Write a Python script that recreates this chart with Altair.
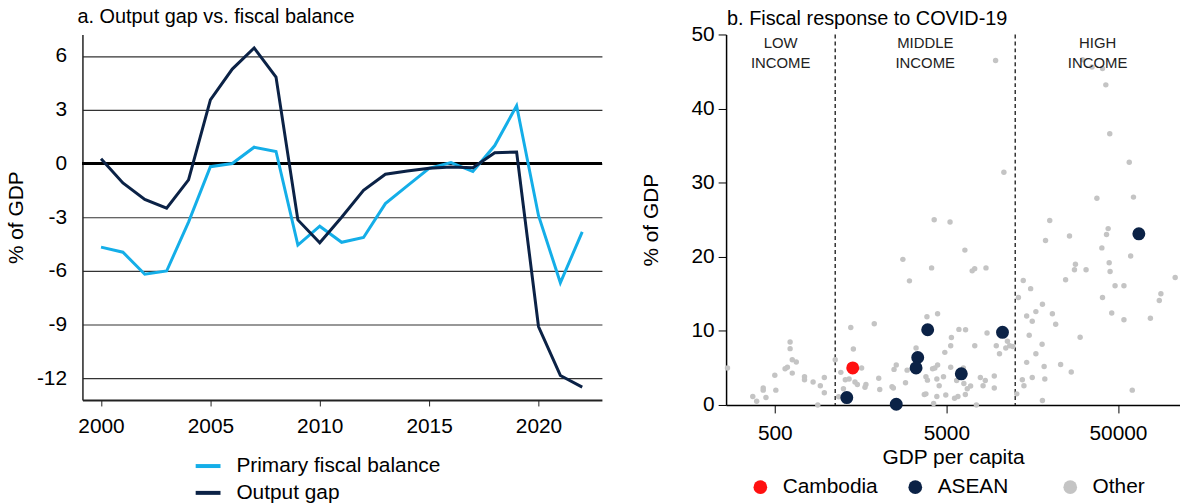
import altair as alt
import pandas as pd

FONT = "Liberation Sans"

# ---- Panel a: output gap vs. primary fiscal balance (% of GDP) ----
years = list(range(2000, 2023))
primary_balance = [-4.67, -4.95, -6.18, -6.0, -3.27, -0.18, 0.0, 0.91, 0.67, -4.55,
                   -3.5, -4.4, -4.13, -2.24, -1.25, -0.27, 0.05, -0.45, 1.0, 3.22,
                   -2.9, -6.66, -3.82]
output_gap = [0.27, -1.09, -2.0, -2.49, -0.91, 3.55, 5.27, 6.45, 4.82, -3.15,
              -4.42, -3.0, -1.5, -0.6, -0.42, -0.27, -0.2, -0.24, 0.6, 0.64,
              -9.1, -11.83, -12.48]
series_names = ["Primary fiscal balance", "Output gap"]
series_colors = ["#14AEE8", "#0B2246"]
y_ticks_a = [-12, -9, -6, -3, 0, 3, 6]
x_ticks_a = [2000, 2005, 2010, 2015, 2020]

# ---- Panel b: fiscal response to COVID-19 vs. GDP per capita ----
other_gdp = [265, 614, 614, 632, 667, 592, 574, 632, 500, 745, 745, 836, 972, 921, 972,
             428, 428, 507, 372, 444, 392, 890, 1125, 1386, 1435, 1900, 1213, 1603, 1288,
             1355, 1466, 1514, 1699, 1677, 1256, 1178,
             5350, 5917, 6470, 8630, 11350, 11700, 11100, 12200, 10200, 9770, 7320, 5300,
             4897, 3329, 2552, 2477, 2953, 4285, 4444, 4155, 5300, 6280, 2017, 2045, 2411,
             2455, 2890, 3800, 3880, 4400, 4810, 4540, 5740, 6325, 6620, 6920, 7890, 8430,
             9510, 8180, 9510, 3718, 3800, 4400, 4961, 5580, 5840, 6450, 4213, 7480, 12860,
             4246, 5253, 6410, 2789, 4100, 7070, 7310, 8510, 3047, 13150, 3853, 4444,
             15830, 21680, 54200, 77300, 15200, 30100, 18070, 16620, 14690, 18570, 23170,
             26720, 13860, 15830, 18740, 14160, 18150, 60600,
             20020, 43850, 42900, 26100, 18920, 40300, 59300, 28260, 27900, 32600, 44450,
             45000, 14030, 24770, 107800, 15490, 48100, 54200, 40650, 89000, 87100, 18150,
             14690, 16620, 20740, 46000,
             9680, 10820, 31100, 35300, 40650, 42500, 44800, 58200, 37700, 61600]
other_pct = [5.0, 8.5, 7.6, 6.1, 5.8, 5.1, 4.9, 4.3, 4.0, 3.8, 3.4, 3.1, 3.7, 2.6, 1.65,
             2.3, 2.0, 2.0, 1.15, 1.0, 0.5, 0.0, 6.1, 10.45, 7.55, 10.95, 4.4, 5.0, 3.4,
             3.5, 3.1, 2.75, 2.75, 2.4, 2.2, 1.1,
             9.1, 10.2, 10.15, 9.7, 8.6, 8.0, 7.7, 7.9, 6.9, 8.0, 8.0, 8.0,
             7.1, 7.7, 5.4, 4.8, 4.7, 5.0, 5.4, 4.9, 5.1, 5.0, 3.6, 2.1, 2.45,
             2.3, 3.0, 3.8, 3.35, 3.5, 3.8, 2.6, 3.3, 2.9, 2.2, 2.55, 3.7, 3.3,
             3.9, 2.6, 2.3, 1.4, 1.5, 1.15, 1.35, 0.9, 1.15, 1.4, 0.2, 0.0, 1.5,
             25.0, 24.7, 20.9, 19.65, 18.5, 18.1, 18.4, 18.5, 16.75, 14.5, 11.9, 12.3,
             11.3, 10.9, 11.5, 11.7, 9.4, 9.15, 8.2, 6.9, 5.75, 5.2, 5.45,
             4.45, 3.4, 3.7, 3.5, 2.6, 0.6, 2.0,
             24.9, 23.8, 23.0, 22.8, 22.2, 21.2, 20.1, 19.0, 18.25, 18.25, 19.2,
             18.0, 16.8, 16.9, 17.2, 15.7, 16.1, 16.1, 14.5, 15.0, 14.1, 13.6,
             12.0, 12.6, 12.3, 12.4,
             46.5, 31.4, 46.6, 45.6, 45.4, 43.2, 36.6, 32.75, 27.9, 28.05]
asean_gdp = [1314, 2552, 3891, 3404, 3329, 6110, 10620, 66200]
asean_pct = [1.0, 0.1, 10.15, 6.4, 5.0, 4.2, 9.8, 23.1]
cambodia_gdp = [1423]
cambodia_pct = [5.0]

group_names = ["Cambodia", "ASEAN", "Other"]
group_colors = ["#FF1010", "#0B2246", "#C4C4C4"]

gdp_domain = [260, 115000]
income_thresholds = [1125, 12600]
income_labels = ["LOW\nINCOME", "MIDDLE\nINCOME", "HIGH\nINCOME"]
x_ticks_b = [500, 5000, 50000]
y_ticks_b = [0, 10, 20, 30, 40, 50]

# ---------------- panel a ----------------
lines_df = pd.DataFrame({
    "year": years * 2,
    "value": primary_balance + output_gap,
    "series": [series_names[0]] * len(years) + [series_names[1]] * len(years),
})

zero_line = alt.Chart(lines_df).mark_rule(color="black", strokeWidth=2).encode(
    y=alt.datum(0)
)

lines = alt.Chart(lines_df).mark_line(strokeWidth=3).encode(
    x=alt.X("year:Q",
            scale=alt.Scale(domain=[1999.15, 2022.9], nice=False, zero=False),
            axis=alt.Axis(values=x_ticks_a, format="d", title=None, grid=False,
                          ticks=True, tickSize=6, tickColor="#222", labelPadding=10,
                          domainColor="#222", domainWidth=2)),
    y=alt.Y("value:Q",
            scale=alt.Scale(domain=[-13.2, 7.2], nice=False, zero=False),
            axis=alt.Axis(values=y_ticks_a, title="% of GDP", grid=True,
                          gridColor="#333", gridWidth=1.2, ticks=False,
                          labelExpr="'' + datum.value",
                          labelPadding=16, titlePadding=10,
                          domainColor="#222", domainWidth=1.5)),
    color=alt.Color("series:N",
                    scale=alt.Scale(domain=series_names, range=series_colors),
                    legend=alt.Legend(title=None, orient="none", legendX=112,
                                      legendY=420, direction="vertical",
                                      symbolType="stroke", symbolSize=625,
                                      symbolStrokeWidth=4, labelOffset=14,
                                      rowPadding=2, labelFontSize=21,
                                      labelLimit=0, labelColor="black")),
)

panel_a = alt.layer(zero_line, lines).properties(
    width=523, height=368,
    title=alt.TitleParams("a.  Output gap vs. fiscal balance", anchor="start",
                          frame="group", dx=-5, offset=8, fontSize=20,
                          fontWeight="normal", color="black"),
)

# ---------------- panel b ----------------
other_df = pd.DataFrame({"gdp": other_gdp, "pct": other_pct,
                         "group": ["Other"] * len(other_gdp)})
# highlighted economies are drawn above the grey cloud
highlight_df = pd.DataFrame({
    "gdp": asean_gdp + cambodia_gdp,
    "pct": asean_pct + cambodia_pct,
    "group": ["ASEAN"] * len(asean_gdp) + ["Cambodia"] * len(cambodia_gdp),
})

thresh_df = pd.DataFrame({"gdp": income_thresholds})

# income-group labels sit at the geometric centre of each band
bounds = [gdp_domain[0]] + income_thresholds + [gdp_domain[1]]
label_df = pd.DataFrame({
    "gdp": [(bounds[i] * bounds[i + 1]) ** 0.5 for i in range(3)],
    "pct": [50] * 3,
    "label": income_labels,
})

x_b = alt.X("gdp:Q",
            scale=alt.Scale(type="log", domain=gdp_domain, nice=False),
            axis=alt.Axis(values=x_ticks_b, format="d", title="GDP per capita",
                          grid=False, tickSize=8, tickColor="black",
                          labelPadding=10, titlePadding=3,
                          domainColor="black", domainWidth=1.5))
y_b = alt.Y("pct:Q",
            scale=alt.Scale(domain=[0, 50], nice=False),
            axis=alt.Axis(values=y_ticks_b, title="% of GDP", grid=False,
                          tickSize=8, tickColor="black", labelPadding=4,
                          titlePadding=30, domainColor="black", domainWidth=1.5))

group_color = alt.Color(
    "group:N",
    scale=alt.Scale(domain=group_names, range=group_colors),
    legend=alt.Legend(title=None, orient="none", legendX=24, legendY=445,
                      direction="horizontal", columns=3, gridAlign="all",
                      columnPadding=27, symbolType="circle", symbolSize=190,
                      symbolStrokeWidth=0, labelOffset=12, labelFontSize=21,
                      labelLimit=0, labelColor="black"),
)

rules = alt.Chart(thresh_df).mark_rule(color="#333", strokeWidth=1.5,
                                       strokeDash=[4, 3]).encode(x=x_b)

other_points = alt.Chart(other_df).mark_circle(opacity=1, size=30).encode(
    x=x_b, y=y_b, color=group_color
)
highlight_points = alt.Chart(highlight_df).mark_circle(opacity=1, size=170).encode(
    x=x_b, y=y_b, color=group_color
)

labels = alt.Chart(label_df).mark_text(
    fontSize=15, color="#222", baseline="top", align="center",
    lineBreak="\n", lineHeight=20, dy=2
).encode(x=x_b, y=y_b, text="label:N")

panel_b = alt.layer(rules, other_points, highlight_points, labels).properties(
    width=457, height=373,
    title=alt.TitleParams("b. Fiscal response to COVID-19", anchor="start",
                          frame="group", dx=1, offset=-5, fontSize=20,
                          fontWeight="normal", color="black"),
)

chart = alt.hconcat(panel_a, panel_b, spacing=37).resolve_scale(
    color="independent"
).resolve_legend(color="independent").configure(
    font=FONT, padding={"left": 5, "top": 5, "right": 0, "bottom": 0}
).configure_view(stroke=None).configure_axis(
    labelFontSize=21, titleFontSize=21, labelColor="black", titleColor="black",
    titleFontWeight="normal", labelFont=FONT, titleFont=FONT
)

chart.save("out.html", embed_options={"renderer": "svg", "actions": False})
